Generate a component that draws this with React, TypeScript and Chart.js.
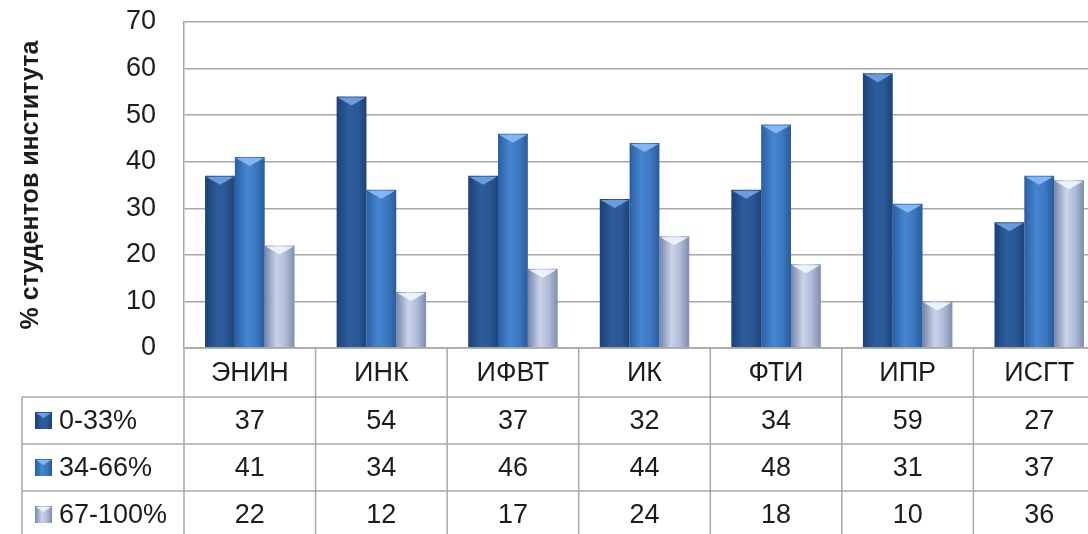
import React, { useEffect, useRef } from 'react';
import { Chart, registerables } from 'chart.js';

Chart.register(...registerables);

// ---- data ----
const categories = ['ЭНИН', 'ИНК', 'ИФВТ', 'ИК', 'ФТИ', 'ИПР', 'ИСГТ'];
const seriesNames = ['0-33%', '34-66%', '67-100%'];
const lowShare = [37, 54, 37, 32, 34, 59, 27];
const midShare = [41, 34, 46, 44, 48, 31, 37];
const highShare = [22, 12, 17, 24, 18, 10, 36];
const yTickValues = [0, 10, 20, 30, 40, 50, 60, 70];
const yAxisTitle = '% студентов института';

const seriesValues = [lowShare, midShare, highShare];

// ---- styles ----
const FONT = "'Liberation Sans', Arial, sans-serif";
const TEXT_COLOR = '#1c1c1c';
const LINE_COLOR = '#A8A8A8';
const CAT_PCT = 0.68;
const palettes = [
  { stops: ['#1B4176', '#2D5C9C', '#2B5997', '#1C4379'], flat: '#2B5997', tip: 'rgba(110,160,228,0.95)' },
  { stops: ['#2A5EA2', '#4686D1', '#3C78C1', '#2A5B9D'], flat: '#3C78C1', tip: 'rgba(135,185,245,0.95)' },
  { stops: ['#7584A7', '#C9D3E9', '#AFBCD7', '#7E8CAD'], flat: '#AFBCD7', tip: 'rgba(238,243,252,0.95)' },
];

function fillGradient(ctx: CanvasRenderingContext2D, x0: number, w: number, stops: string[]) {
  const g = ctx.createLinearGradient(x0, 0, x0 + w, 0);
  g.addColorStop(0, stops[0]);
  g.addColorStop(0.4, stops[1]);
  g.addColorStop(0.7, stops[2]);
  g.addColorStop(1, stops[3]);
  return g;
}

const makeBg = (di: number) => (c: any) => {
  const chart = c.chart;
  const area = chart.chartArea;
  const xs = chart.scales && chart.scales.x;
  if (!area || !xs || c.type !== 'data') return palettes[di].flat;
  const n = categories.length;
  const cw = (area.right - area.left) / n;
  const group = cw * CAT_PCT;
  const bw = group / seriesValues.length;
  const center = xs.getPixelForValue(c.dataIndex);
  const x0 = center - group / 2 + di * bw;
  return fillGradient(chart.ctx, x0, bw, palettes[di].stops);
};

const bevelPlugin = {
  id: 'bevel',
  afterDatasetsDraw(chart: any) {
    const ctx = chart.ctx;
    chart.data.datasets.forEach((_: any, di: number) => {
      const meta = chart.getDatasetMeta(di);
      meta.data.forEach((el: any) => {
        const { x, y, width } = el.getProps(['x', 'y', 'width'], true);
        const l = x - width / 2;
        const r = x + width / 2;
        ctx.save();
        ctx.fillStyle = palettes[di].tip;
        ctx.beginPath();
        ctx.moveTo(l + 1, y + 1);
        ctx.lineTo(r - 1, y + 1);
        ctx.lineTo(x, y + 9);
        ctx.closePath();
        ctx.fill();
        ctx.restore();
      });
    });
  },
};

const tablePlugin = {
  id: 'dataTable',
  afterDraw(chart: any) {
    const ctx: CanvasRenderingContext2D = chart.ctx;
    const area = chart.chartArea;
    const xs = chart.scales.x;
    const n = categories.length;
    const cw = (area.right - area.left) / n;
    const top = area.bottom;
    const headerH = 49;
    const rowH = 47;
    const tableLeft = 22;
    const bottom = chart.height + 10;

    ctx.save();
    ctx.strokeStyle = LINE_COLOR;
    ctx.lineWidth = 1.5;
    ctx.beginPath();
    ctx.moveTo(area.left, top);
    ctx.lineTo(area.right, top);
    for (let i = 0; i <= seriesNames.length; i++) {
      const yy = top + headerH + rowH * i;
      ctx.moveTo(tableLeft, yy);
      ctx.lineTo(area.right, yy);
    }
    ctx.moveTo(tableLeft, top + headerH);
    ctx.lineTo(tableLeft, bottom);
    for (let i = 0; i <= n; i++) {
      const xx = area.left + cw * i;
      ctx.moveTo(xx, top);
      ctx.lineTo(xx, bottom);
    }
    ctx.stroke();

    ctx.fillStyle = TEXT_COLOR;
    ctx.font = `27px ${FONT}`;
    ctx.textAlign = 'center';
    ctx.textBaseline = 'middle';
    categories.forEach((cat, i) => {
      ctx.fillText(cat, xs.getPixelForValue(i), top + headerH / 2 + 1);
    });
    seriesValues.forEach((vals, si) => {
      const cy = top + headerH + rowH * si + rowH / 2 + 1;
      vals.forEach((v, i) => {
        ctx.fillText(String(v), xs.getPixelForValue(i), cy);
      });
    });

    ctx.textAlign = 'left';
    seriesNames.forEach((name, si) => {
      const cy = top + headerH + rowH * si + rowH / 2;
      const ks = 17;
      const kx = 35;
      const ky = cy - ks / 2;
      ctx.fillStyle = fillGradient(ctx, kx, ks, palettes[si].stops);
      ctx.fillRect(kx, ky, ks, ks);
      ctx.fillStyle = palettes[si].tip;
      ctx.beginPath();
      ctx.moveTo(kx + 1, ky + 1);
      ctx.lineTo(kx + ks - 1, ky + 1);
      ctx.lineTo(kx + ks / 2, ky + 6);
      ctx.closePath();
      ctx.fill();
      ctx.fillStyle = TEXT_COLOR;
      ctx.fillText(name, 59, cy + 1);
    });
    ctx.restore();
  },
};

export default function App() {
  const ref = useRef<HTMLCanvasElement | null>(null);

  useEffect(() => {
    if (!ref.current) return;
    const chart = new Chart(ref.current, {
      type: 'bar',
      data: {
        labels: categories,
        datasets: seriesNames.map((name, di) => ({
          label: name,
          data: seriesValues[di],
          backgroundColor: makeBg(di),
          borderWidth: 0,
          barPercentage: 1,
          categoryPercentage: CAT_PCT,
        })),
      },
      options: {
        responsive: false,
        animation: false,
        layout: { padding: { top: 22, bottom: 192, left: 0, right: 1 } },
        plugins: {
          legend: { display: false },
          tooltip: { enabled: false },
          title: { display: false },
        },
        scales: {
          x: {
            display: false,
          },
          y: {
            min: 0,
            max: 70,
            afterBuildTicks: (scale: any) => {
              scale.ticks = yTickValues.map((v) => ({ value: v }));
            },
            afterFit: (scale: any) => {
              scale.width = 184;
              scale.paddingTop = 0;
              scale.paddingBottom = 0;
            },
            grid: { color: LINE_COLOR, lineWidth: 1.5, drawTicks: false },
            border: { display: true, color: LINE_COLOR, width: 1.5 },
            ticks: {
              padding: 28,
              color: TEXT_COLOR,
              font: { family: FONT, size: 27 },
            },
            title: {
              display: true,
              text: yAxisTitle,
              color: TEXT_COLOR,
              font: { family: FONT, size: 25, weight: 'bold' },
              padding: { top: 16, bottom: 0 },
            },
          },
        },
      },
      plugins: [bevelPlugin, tablePlugin],
    } as any);
    return () => chart.destroy();
  }, []);

  return (
    <div
      style={{
        position: 'fixed',
        left: 0,
        top: 0,
        width: 1088,
        height: 534,
        overflow: 'hidden',
        background: '#ffffff',
      }}
    >
      <canvas ref={ref} width={1106} height={540} style={{ display: 'block' }} />
    </div>
  );
}
